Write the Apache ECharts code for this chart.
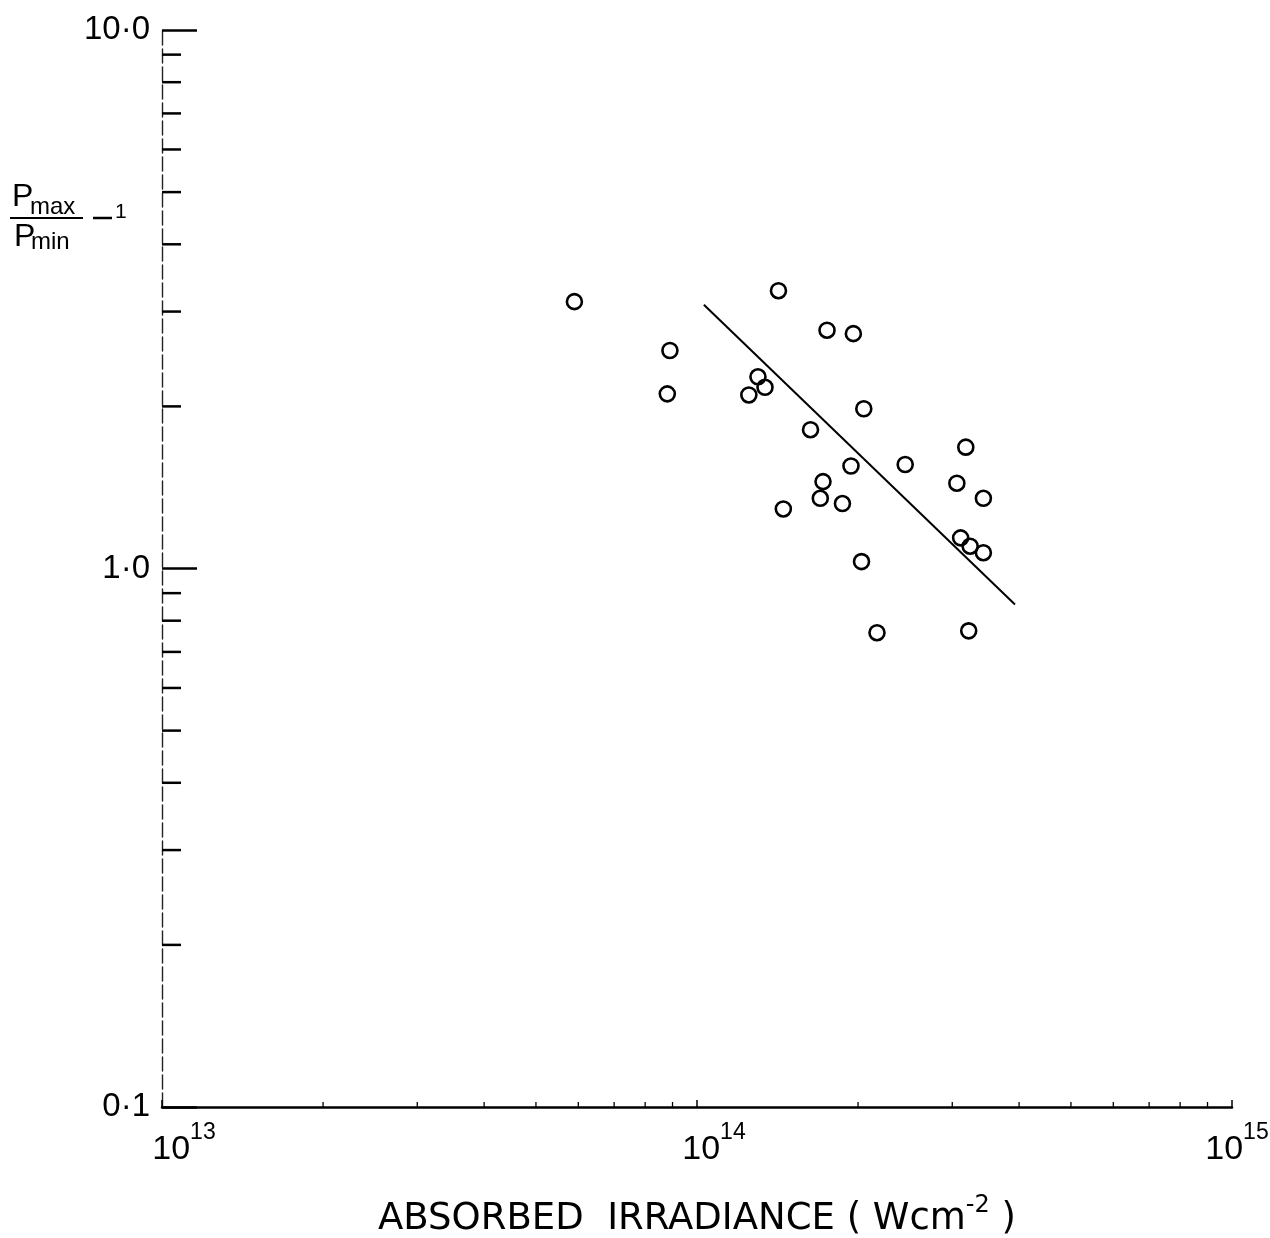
<!DOCTYPE html>
<html>
<head>
<meta charset="utf-8">
<script src="https://cdn.jsdelivr.net/npm/echarts@6/dist/echarts.min.js"></script>
<style>
  html, body { margin: 0; padding: 0; background: #fff; }
  #chart { width: 1270px; height: 1238px; }
</style>
</head>
<body>
<div id="chart"></div>
<script>
// Absorbed irradiance of each shot (W cm^-2)
const irradiance = [
  5.9e13, 8.9e13, 8.8e13, 1.42e14, 1.25e14, 1.30e14, 1.34e14, 1.75e14, 1.96e14,
  2.05e14, 1.63e14, 1.94e14, 2.45e14, 1.72e14, 1.70e14, 1.87e14, 1.45e14,
  3.18e14, 3.06e14, 3.43e14, 3.11e14, 3.24e14, 3.43e14, 2.03e14, 2.17e14, 3.22e14
];
// Pressure modulation Pmax/Pmin - 1 of each shot
const modulation = [
  3.13, 2.54, 2.11, 3.28, 2.10, 2.27, 2.17, 2.77, 2.73,
  1.98, 1.81, 1.55, 1.56, 1.45, 1.35, 1.32, 1.29,
  1.68, 1.44, 1.35, 1.14, 1.10, 1.07, 1.03, 0.76, 0.766
];
// Fitted trend line (end points)
const fitX = [1.03e14, 3.93e14];
const fitY = [3.09, 0.857];

// Minor (log-paper) tick values
const xMinorTicks = [2e13, 3e13, 4e13, 5e13, 6e13, 7e13, 8e13, 9e13,
                     2e14, 3e14, 4e14, 5e14, 6e14, 7e14, 8e14, 9e14];
const yMinorTicks = [0.2, 0.3, 0.4, 0.5, 0.6, 0.7, 0.8, 0.9,
                     2, 3, 4, 5, 6, 7, 8, 9];

// Decade tick labels
const yTickLabels = ['0·1', '1·0', '10·0'];       // 10^-1, 10^0, 10^1
const xTickExponents = ['13', '14', '15'];         // 10^13, 10^14, 10^15

const FONT = '"Liberation Sans", "DejaVu Sans", sans-serif';

const chart = echarts.init(document.getElementById('chart'), null, { renderer: 'canvas' });

function tickSeries(data, horizontal, len, width) {
  return {
    type: 'custom',
    coordinateSystem: 'cartesian2d',
    silent: true,
    clip: false,
    z: 3,
    data: data,
    renderItem: function (params, api) {
      const p = api.coord([api.value(0), api.value(1)]);
      const shape = horizontal
        ? { x1: p[0], y1: p[1], x2: p[0] + len, y2: p[1] }
        : { x1: p[0], y1: p[1], x2: p[0], y2: p[1] - len };
      return { type: 'line', shape: shape, style: { stroke: '#000', lineWidth: width } };
    }
  };
}

const option = {
  backgroundColor: '#fff',
  animation: false,
  grid: { left: 162, right: 38, top: 30, bottom: 131, containLabel: false, outerBoundsMode: 'none' },
  xAxis: {
    type: 'log',
    logBase: 10,
    min: 1e13,
    max: 1e15,
    splitLine: { show: false },
    axisLine: { show: true, onZero: false, lineStyle: { color: '#000', width: 2.5 } },
    axisTick: { show: true, inside: true, length: 7, lineStyle: { color: '#000', width: 1.5 } },
    axisLabel: {
      margin: 14,
      color: '#000',
      formatter: function (v) {
        const e = xTickExponents[Math.round(Math.log10(v)) - 13];
        // leading spacer nudges each power-of-ten label sideways
        return '{p' + e + '| }{b|10}{s|' + e + '}';
      },
      rich: {
        p13: { width: 44, fontSize: 10, lineHeight: 46 },
        p14: { width: 34, fontSize: 10, lineHeight: 46 },
        p15: { width: 10, fontSize: 10, lineHeight: 46 },
        b: { fontFamily: FONT, fontSize: 34, color: '#000', lineHeight: 46, verticalAlign: 'bottom' },
        s: { fontFamily: FONT, fontSize: 23, color: '#000', lineHeight: 46, verticalAlign: 'top' }
      }
    },
    name: '{t|ABSORBED  IRRADIANCE ( Wcm}{s|-2}{t| )}',
    nameLocation: 'middle',
    nameGap: 87,
    nameTextStyle: {
      rich: {
        t: { fontFamily: '"DejaVu Sans", sans-serif', fontSize: 37, color: '#000', lineHeight: 44, verticalAlign: 'bottom' },
        s: { fontFamily: '"DejaVu Sans", sans-serif', fontSize: 24, color: '#000', lineHeight: 44, verticalAlign: 'top' }
      }
    }
  },
  yAxis: {
    type: 'log',
    logBase: 10,
    min: 0.1,
    max: 10,
    splitLine: { show: false },
    axisLine: { show: true, onZero: false, lineStyle: { color: '#222', width: 1.4, type: [14, 4] } },
    axisTick: { show: true, inside: true, length: 35, lineStyle: { color: '#000', width: 2.5 } },
    axisLabel: {
      margin: 12,
      color: '#000',
      fontFamily: FONT,
      fontSize: 33,
      formatter: function (v) {
        return yTickLabels[Math.round(Math.log10(v)) + 1];
      }
    }
  },
  graphic: [
    // Y-axis quantity: Pmax / Pmin - 1
    { type: 'text', left: 12, top: 181, style: { text: 'P', font: '32px ' + FONT, fill: '#000' } },
    { type: 'text', left: 30, top: 195, style: { text: 'max', font: '24px ' + FONT, fill: '#000' } },
    { type: 'line', shape: { x1: 10, y1: 218, x2: 83, y2: 218 }, style: { stroke: '#000', lineWidth: 1.8 } },
    { type: 'text', left: 14, top: 221, style: { text: 'P', font: '32px ' + FONT, fill: '#000' } },
    { type: 'text', left: 31, top: 230, style: { text: 'min', font: '24px ' + FONT, fill: '#000' } },
    { type: 'line', shape: { x1: 93, y1: 218, x2: 112, y2: 218 }, style: { stroke: '#000', lineWidth: 2.5 } },
    { type: 'text', left: 115, top: 202, style: { text: '1', font: '21px ' + FONT, fill: '#000' } }
  ],
  series: [
    tickSeries(xMinorTicks.map(v => [v, 0.1]), false, 5, 1.3),
    tickSeries(yMinorTicks.map(v => [1e13, v]), true, 19, 2.5),
    {
      type: 'line',
      data: fitX.map((x, i) => [x, fitY[i]]),
      showSymbol: false,
      symbol: 'none',
      lineStyle: { color: '#000', width: 2 },
      z: 4
    },
    {
      type: 'scatter',
      data: irradiance.map((x, i) => [x, modulation[i]]),
      symbol: 'circle',
      symbolSize: 15,
      itemStyle: { color: 'rgba(0,0,0,0)', borderColor: '#000', borderWidth: 2.6, opacity: 1 },
      z: 5
    }
  ]
};

chart.setOption(option);
</script>
</body>
</html>
